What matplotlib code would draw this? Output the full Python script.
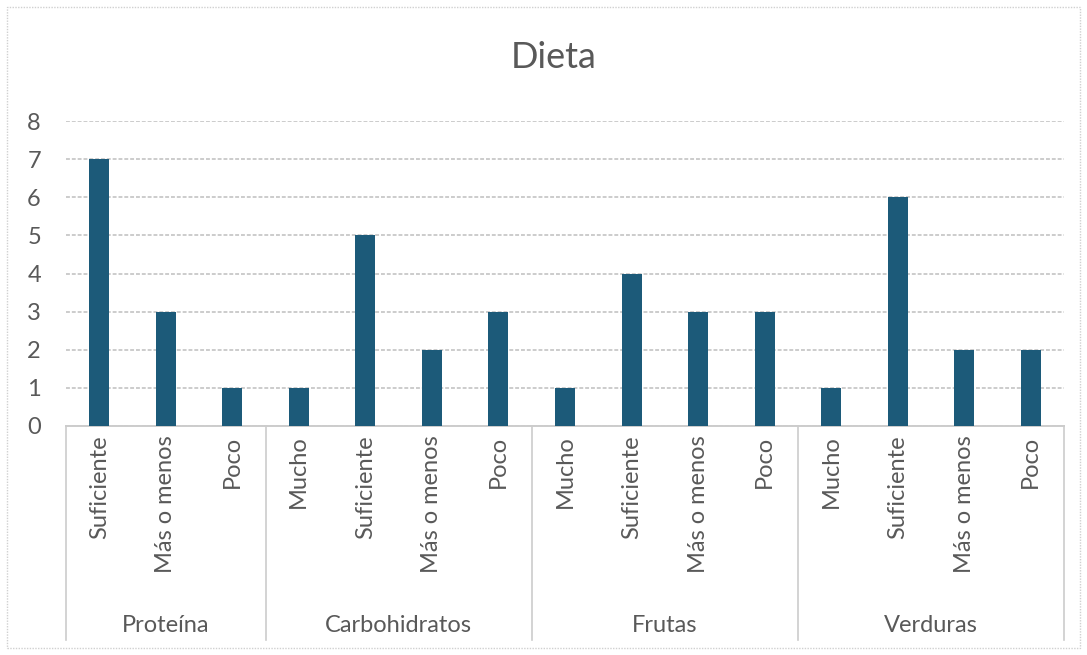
import matplotlib
matplotlib.use("Agg")
import matplotlib.pyplot as plt
from matplotlib.patches import Rectangle
import matplotlib.transforms as mtransforms

# data
groups = ["Proteína", "Carbohidratos", "Frutas", "Verduras"]
levels = [
    ["Suficiente", "Más o menos", "Poco"],
    ["Mucho", "Suficiente", "Más o menos", "Poco"],
    ["Mucho", "Suficiente", "Más o menos", "Poco"],
    ["Mucho", "Suficiente", "Más o menos", "Poco"],
]
counts = [
    [7, 3, 1],
    [1, 5, 2, 3],
    [1, 4, 3, 3],
    [1, 6, 2, 2],
]
yticks = [0, 1, 2, 3, 4, 5, 6, 7, 8]

plt.rcParams["font.family"] = ["Lato", "DejaVu Sans"]
text_col = "#595959"
grid_col = "#cccccc"
bar_col = "#1c5a79"

fig = plt.figure(figsize=(10.87, 6.55), dpi=100)
ax = fig.add_axes([66 / 1087, 1 - 426 / 655, (1064 - 66) / 1087, (426 - 121) / 655])

labels = [l for grp in levels for l in grp]
values = [v for grp in counts for v in grp]
x = list(range(len(values)))

ax.bar(x, values, width=0.3, color=bar_col, zorder=3)

ax.set_xlim(-0.5, len(values) - 0.5)
ax.set_ylim(0, 8)
ax.set_yticks(yticks)
ax.yaxis.grid(True, color=grid_col, linewidth=1.4, linestyle=(0, (2, 1)))
ax.set_axisbelow(True)
ax.tick_params(axis="y", length=0, pad=18, labelsize=17, labelcolor=text_col)
ax.set_xticks(x)
ax.set_xticklabels(labels, rotation=90, va="top")
ax.tick_params(axis="x", length=0, pad=7, labelsize=17, labelcolor=text_col)

for s in ["left", "right", "top"]:
    ax.spines[s].set_visible(False)
ax.spines["bottom"].set_color(grid_col)
ax.spines["bottom"].set_linewidth(1.4)

# group separators and group names under the axis
trans = mtransforms.blended_transform_factory(ax.transData, ax.transAxes)
edges = [-0.5]
for grp in levels:
    edges.append(edges[-1] + len(grp))
for e in edges:
    ax.plot([e, e], [0, -0.70], transform=trans, color=grid_col,
            linewidth=1.2, clip_on=False)
for i, g in enumerate(groups):
    ax.text((edges[i] + edges[i + 1]) / 2, -0.655, g, transform=trans,
            ha="center", va="center", fontsize=17, color=text_col)

fig.text(554 / 1087, 1 - 58 / 655, "Dieta", ha="center", va="center",
         fontsize=26, color=text_col)

fig.patches.append(Rectangle((7 / 1087, 7 / 655), 1073 / 1087, 641 / 655,
                             transform=fig.transFigure, fill=False,
                             edgecolor="#d0d0d0", linewidth=1,
                             linestyle=(0, (1, 1))))

fig.savefig("out.png", dpi=100)
